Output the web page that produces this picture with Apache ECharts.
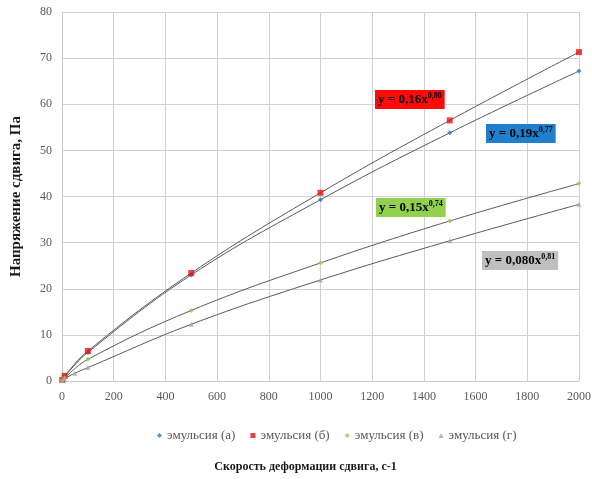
<!DOCTYPE html>
<html>
<head>
<meta charset="utf-8">
<script src="https://cdn.jsdelivr.net/npm/echarts@6/dist/echarts.min.js"></script>
<style>
    html, body {margin: 0; padding: 0; background: #fff;}
    #chart {width: 592px; height: 479px;}
</style>
</head>
<body>
<div id="chart"></div>
<script>
    // скорость сдвига, с-1
    const shearRate = [1, 10, 50, 100, 500, 1000, 1500, 2000];
    // напряжение сдвига, Па
    const emulsionA = [0.2, 1.0, null, 6.2, 23.0, 39.3, 53.8, 67.2];
    const emulsionB = [0.2, 1.1, null, 6.5, 23.4, 40.8, 56.5, 71.3];
    const emulsionC = [0.15, 0.7, null, 4.7, 15.3, 25.6, 34.7, 42.8];
    const emulsionD = [0.1, 0.5, 1.7, 2.9, 12.3, 21.9, 30.4, 38.3];
    const seriesNames = ['эмульсия (а)', 'эмульсия (б)', 'эмульсия (в)', 'эмульсия (г)'];
    const trendLabels = [
        ['0,19', '0,77'],
        ['0,16', '0,80'],
        ['0,15', '0,74'],
        ['0,080', '0,81']
    ];

    const serif = '"Liberation Serif", "DejaVu Serif", serif';
    const colors = ['#1f78c8', '#e81010', '#94cc44', '#a6a6a6'];
    const symbols = ['diamond', 'rect', 'diamond', 'triangle'];
    const sizes = [5, 6, 5, 5];
    const values = [emulsionA, emulsionB, emulsionC, emulsionD];

    const pairs = v => shearRate.map((x, i) => [x, v[i]]);

    const chart = echarts.init(document.getElementById('chart'));

    const series = [];
    values.forEach((v, i) => {
        // линия тренда
        series.push({
            type: 'line', data: pairs(v), smooth: 0.4, showSymbol: false, connectNulls: true,
            lineStyle: {color: '#5a5a5a', width: 1}, silent: true, z: 2
        });
    });
    values.forEach((v, i) => {
        series.push({
            name: seriesNames[i], type: 'scatter', data: pairs(v),
            symbol: symbols[i], symbolSize: sizes[i],
            itemStyle: {color: colors[i]}, z: 3
        });
    });

    // подписи уравнений
    const boxes = [
        {left: 486, top: 124, bg: '#1f7fcc'},
        {left: 375, top: 90, bg: '#ff0a0a'},
        {left: 376, top: 198, bg: '#92d050'},
        {left: 482, top: 251, bg: '#bfbfbf'}
    ];
    const graphic = boxes.map((b, i) => ({
        type: 'text', left: b.left, top: b.top, z: 10,
        style: {
            text: '{b|y = ' + trendLabels[i][0] + 'x}{s|' + trendLabels[i][1] + '}',
            backgroundColor: b.bg, padding: [2, 3, 1, 3],
            rich: {
                b: {fontFamily: serif, fontWeight: 'bold', fontSize: 13, color: '#1a1a1a', lineHeight: 16},
                s: {fontFamily: serif, fontWeight: 'bold', fontSize: 8, color: '#1a1a1a', verticalAlign: 'top', lineHeight: 10, padding: [0, 0, 6, 0]}
            }
        }
    }));

    chart.setOption({
        animation: false,
        grid: {left: 62, right: 13, top: 12, bottom: 98, outerBoundsMode: 'none'},
        legend: {
            data: seriesNames.map((n, i) => ({name: n, icon: symbols[i]})),
            bottom: 32, left: 152, itemWidth: 5, itemHeight: 5, itemGap: 15,
            textStyle: {fontFamily: serif, fontSize: 13, color: '#595959'}
        },
        xAxis: {
            type: 'value', min: 0, max: 2000, interval: 200,
            name: 'Скорость деформации сдвига, с-1', nameLocation: 'middle', nameGap: 80,
            nameTextStyle: {fontFamily: serif, fontWeight: 'bold', fontSize: 12, color: '#1a1a1a', padding: [0, 30, 0, 0]},
            axisLabel: {fontFamily: serif, fontSize: 12, color: '#595959', margin: 10, formatter: v => String(v)},
            axisLine: {lineStyle: {color: '#c8c8c8'}}, axisTick: {show: false},
            splitLine: {lineStyle: {color: '#d0d0d0'}}
        },
        yAxis: {
            type: 'value', min: 0, max: 80, interval: 10,
            name: 'Напряжение сдвига, Па', nameLocation: 'middle', nameGap: 38,
            nameTextStyle: {fontFamily: serif, fontWeight: 'bold', fontSize: 15, color: '#1a1a1a'},
            axisLabel: {fontFamily: serif, fontSize: 12, color: '#595959', margin: 10},
            axisLine: {show: true, lineStyle: {color: '#c8c8c8'}}, axisTick: {show: false},
            splitLine: {lineStyle: {color: '#d0d0d0'}}
        },
        graphic: graphic,
        series: series
    });
</script>
</body>
</html>
